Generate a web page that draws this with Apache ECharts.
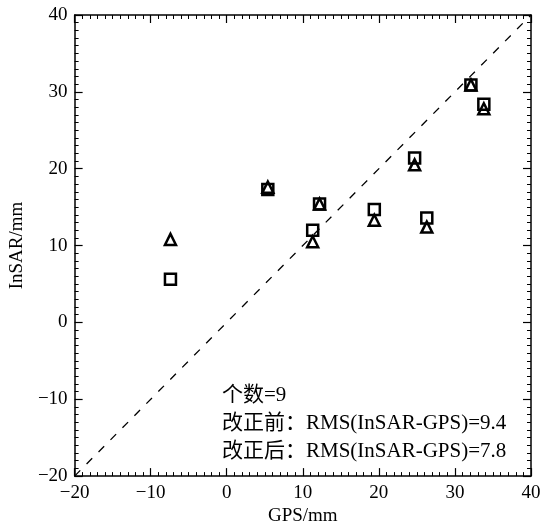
<!DOCTYPE html>
<html>
<head>
<meta charset="utf-8">
<script src="https://cdn.jsdelivr.net/npm/echarts@6/dist/echarts.min.js"></script>
<style>
  html, body { margin: 0; padding: 0; background: #fff; }
  #scatterChart { width: 551px; height: 531px; }
</style>
</head>
<body>
<div id="scatterChart"></div>
<script>
// GPS vs InSAR, 9 sites
var gps = [-7.4, 5.4, 11.3, 12.2, 19.4, 24.7, 26.3, 32.1, 33.8];
var insarBefore = [10.8, 17.6, 10.5, 15.4, 13.3, 20.5, 12.4, 30.9, 27.8]; // triangles
var insarAfter = [5.6, 17.3, 12.0, 15.4, 14.7, 21.4, 13.6, 30.9, 28.4];  // squares
var refLine = [[-20, -20], [40, 40]];
var notes = ['个数=9', '改正前：RMS(InSAR-GPS)=9.4', '改正后：RMS(InSAR-GPS)=7.8'];

var font = '"Liberation Serif", "Noto Sans CJK SC", serif';

function pairs(xs, ys) {
    return xs.map(function (x, i) { return [x, ys[i]]; });
}

function makeAxis(pos, showLabel, name) {
    return {
        type: 'value',
        position: pos,
        min: -20,
        max: 40,
        interval: 10,
        name: name,
        nameLocation: 'middle',
        nameGap: pos === 'left' ? 40 : 28,
        nameTextStyle: { fontFamily: font, fontSize: 19, color: '#000' },
        axisLine: { show: true, onZero: false, lineStyle: { color: '#000', width: 1.5 } },
        axisTick: { show: true, inside: true, length: 8, lineStyle: { color: '#000', width: 1.2 } },
        minorTick: { show: true, splitNumber: 10, length: 4, lineStyle: { color: '#000', width: 1 } },
        axisLabel: {
            show: showLabel, fontFamily: font, fontSize: 19, color: '#000', margin: 7,
            formatter: function (v) { return String(v).replace('-', '\u2212'); }
        },
        splitLine: { show: false }
    };
}

var myChart = echarts.init(document.getElementById('scatterChart'));
var option = {
    animation: false,
    backgroundColor: '#fff',
    grid: { left: 69, right: 20, top: 15, bottom: 49 },
    xAxis: [makeAxis('bottom', true, 'GPS/mm'), makeAxis('top', false, '')],
    yAxis: [makeAxis('left', true, 'InSAR/mm'), makeAxis('right', false, '')],
    graphic: notes.map(function (t, i) {
        return {
            type: 'text',
            left: 222,
            top: 385 + i * 28,
            style: { text: t, fill: '#000', font: '21px ' + font }
        };
    }),
    series: [
        {
            type: 'line',
            data: refLine,
            symbol: 'none',
            lineStyle: { color: '#000', width: 1.3, type: [8, 9] },
            silent: true
        },
        {
            name: '改正后',
            type: 'scatter',
            data: pairs(gps, insarAfter),
            symbol: 'rect',
            symbolSize: 11,
            itemStyle: { color: '#fff', borderColor: '#000', borderWidth: 2.5, opacity: 1 }
        },
        {
            name: '改正前',
            type: 'scatter',
            data: pairs(gps, insarBefore),
            symbol: 'triangle',
            symbolSize: 11,
            itemStyle: { color: 'rgba(255,255,255,0)', borderColor: '#000', borderWidth: 2.5, opacity: 1 }
        }
    ]
};
myChart.setOption(option);
</script>
</body>
</html>
